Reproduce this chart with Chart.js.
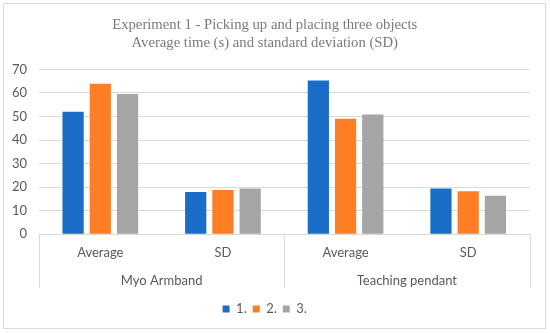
<!DOCTYPE html>
<html>
<head>
<meta charset="utf-8">
<script src="https://cdn.jsdelivr.net/npm/chart.js@4"></script>
<style>
  body { margin: 0; background: #fff; }
  canvas { display: block; }
</style>
</head>
<body>
<canvas id="myChart" width="550" height="333"></canvas>
<script>
// ------------ data -------------

const categories = ['Average', 'SD', 'Average', 'SD'];
const groups = ['Myo Armband', 'Teaching pendant'];
const series1 = [52.0, 17.9, 65.3, 19.4];
const series2 = [63.9, 18.8, 49.0, 18.3];
const series3 = [59.5, 19.4, 50.8, 16.4];
const yTicks = [0, 10, 20, 30, 40, 50, 60, 70];

const labelColor = '#595959';
const lineColor = '#d9d9d9';
const sansFont = 'Lato';

// frame round the chart + separators of the two-level axis
const framePlugin = {
  id: 'frame',
  beforeDraw(chart) {
    const ctx = chart.ctx;
    ctx.save();
    ctx.fillStyle = '#fff';
    ctx.fillRect(0, 0, chart.width, chart.height);
    ctx.strokeStyle = lineColor;
    ctx.lineWidth = 1;
    ctx.strokeRect(3.5, 3.5, chart.width - 8, chart.height - 8);
    ctx.restore();
  },
  afterDraw(chart) {
    const ctx = chart.ctx;
    const x = chart.scales.x;
    const x2 = chart.scales.x2;
    const area = chart.chartArea;
    const mid = (x.getPixelForValue(1) + x.getPixelForValue(2)) / 2;
    const bottom = x2.top + 16;
    ctx.save();
    ctx.strokeStyle = lineColor;
    ctx.lineWidth = 1;
    [area.left, mid, area.right].forEach(function (px) {
      const p = Math.round(px) + 0.5;
      ctx.beginPath();
      ctx.moveTo(p, area.bottom);
      ctx.lineTo(p, bottom);
      ctx.stroke();
    });
    ctx.restore();
  }
};

const data = {
  labels: categories,
  datasets: [
    { label: '1.', backgroundColor: '#1a6dc6', data: series1 },
    { label: '2.', backgroundColor: '#fd7e24', data: series2 },
    { label: '3.', backgroundColor: '#a5a5a5', data: series3 }
  ]
};

const config = {
  type: 'bar',
  data: data,
  options: {
    responsive: false,
    animation: false,
    datasets: { bar: { categoryPercentage: 0.666, barPercentage: 0.78 } },
    layout: { padding: { left: 0, right: 20.5, top: 0, bottom: 7.5 } },
    plugins: {
      title: {
        display: true,
        text: ['Experiment 1 - Picking up and placing three objects',
               'Average time (s) and standard deviation (SD)'],
        color: '#7a7a7a',
        font: { family: 'Liberation Serif', size: 14.7, weight: 'normal', lineHeight: 1.25 },
        padding: { top: 16, bottom: 16.6 }
      },
      legend: {
        position: 'bottom',
        labels: {
          boxWidth: 7,
          boxHeight: 7,
          padding: 6,
          color: labelColor,
          font: { family: sansFont, size: 13 }
        }
      },
      tooltip: { enabled: false }
    },
    scales: {
      x: {
        weight: 0,
        grid: { display: false, drawTicks: false },
        border: { display: true, color: lineColor, width: 1 },
        ticks: { color: labelColor, padding: 11, font: { family: sansFont, size: 13 } }
      },
      x2: {
        type: 'category',
        labels: groups,
        position: 'bottom',
        weight: 1,
        offset: true,
        grid: { display: false, drawTicks: false },
        border: { display: false },
        ticks: { color: labelColor, padding: 1.5, font: { family: sansFont, size: 13 } },
        afterFit(scale) { scale.height += 6; }
      },
      y: {
        min: 0,
        max: 70,
        afterFit(scale) { scale.width = 39; },
        afterBuildTicks(scale) { scale.ticks = yTicks.map(v => ({ value: v })); },
        grid: { color: lineColor, drawTicks: false },
        border: { display: false },
        ticks: { color: labelColor, padding: 12, font: { family: sansFont, size: 13 } }
      }
    }
  },
  plugins: [framePlugin]
};

var myChart = new Chart(
  document.getElementById('myChart'),
  config
);
</script>
</body>
</html>
